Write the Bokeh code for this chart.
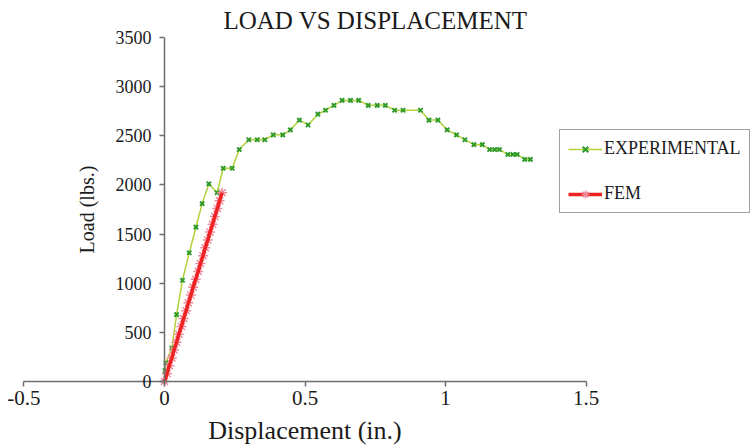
from bokeh.plotting import figure
from bokeh.models import (Range1d, FixedTicker, Legend, LegendItem, Label)
from bokeh.embed import file_html
from bokeh.resources import INLINE

# ---- data ----
exp_disp = [0, 0.002, 0.005, 0.026, 0.043, 0.064, 0.088, 0.112, 0.134, 0.158,
            0.187, 0.209, 0.241, 0.266, 0.300, 0.330, 0.357, 0.387, 0.421, 0.448,
            0.480, 0.511, 0.546, 0.573, 0.603, 0.632, 0.662, 0.691, 0.725, 0.757,
            0.786, 0.819, 0.849, 0.911, 0.941, 0.973, 1.006, 1.039, 1.069, 1.101,
            1.131, 1.157, 1.175, 1.192, 1.222, 1.240, 1.255, 1.282, 1.302]
exp_load = [0, 110, 190, 340, 680, 1030, 1310, 1570, 1810, 2010,
            1920, 2170, 2170, 2360, 2460, 2460, 2460, 2510, 2510, 2560,
            2660, 2610, 2720, 2760, 2810, 2860, 2860, 2860, 2810, 2810,
            2810, 2760, 2760, 2760, 2660, 2660, 2560, 2510, 2460, 2410,
            2410, 2360, 2360, 2360, 2310, 2310, 2310, 2260, 2260]

fem_disp = [0, 0.009, 0.017, 0.026, 0.034, 0.043, 0.051, 0.060, 0.068, 0.077,
            0.085, 0.094, 0.102, 0.111, 0.120, 0.128, 0.137, 0.145, 0.154, 0.162,
            0.171, 0.179, 0.188, 0.196, 0.205]
fem_load = [0, 80, 160, 240, 320, 400, 480, 560, 640, 720,
            800, 880, 960, 1040, 1120, 1200, 1280, 1360, 1440, 1520,
            1600, 1680, 1760, 1840, 1920]

x_ticks = [-0.5, 0, 0.5, 1, 1.5]
x_tick_labels = ["-0.5", "0", "0.5", "1", "1.5"]
y_ticks = [0, 500, 1000, 1500, 2000, 2500, 3000, 3500]

title_text = "LOAD VS DISPLACEMENT"
x_title = "Displacement (in.)"
y_title = "Load (lbs.)"

FONT = "Liberation Serif"
W, H = 754, 447

p = figure(width=W, height=H, output_backend="svg", toolbar_location=None,
           x_range=Range1d(-0.5836, 2.0996), y_range=Range1d(-671.5, 3876.4),
           min_border_left=0, min_border_right=0, min_border_top=0, min_border_bottom=0)
p.outline_line_color = None
p.grid.visible = False
p.background_fill_color = "white"
p.border_fill_color = "white"

for ax in (p.xaxis[0], p.yaxis[0]):
    ax.axis_line_color = "#6e6e6e"
    ax.axis_line_width = 1.5
    ax.major_tick_line_color = "#6e6e6e"
    ax.major_tick_line_width = 1.5
    ax.major_tick_out = 5
    ax.major_tick_in = 0
    ax.minor_tick_line_color = None
    ax.major_label_text_font = FONT
    ax.major_label_text_color = "#1a1a1a"
    ax.axis_label_text_font = FONT
    ax.axis_label_text_font_style = "normal"
    ax.axis_label_text_color = "#1a1a1a"

xa = p.xaxis[0]
xa.fixed_location = 0
xa.bounds = (-0.5, 1.5)
xa.ticker = FixedTicker(ticks=x_ticks)
xa.major_label_overrides = {t: s for t, s in zip(x_ticks, x_tick_labels)}
xa.major_label_text_font_size = "21px"
xa.major_label_standoff = 4
xa.axis_label = x_title
xa.axis_label_text_font_size = "26px"
xa.axis_label_standoff = 8

ya = p.yaxis[0]
ya.fixed_location = 0
ya.bounds = (0, 3500)
ya.ticker = FixedTicker(ticks=y_ticks)
ya.major_label_text_font_size = "18px"
ya.major_label_standoff = 8
ya.axis_label = y_title
ya.axis_label_text_font_size = "20px"
ya.axis_label_standoff = 15

# experimental
l1 = p.line(exp_disp, exp_load, line_color="#b2d23a", line_width=1.5)
s1 = p.scatter(exp_disp, exp_load, marker="x", size=6, line_color="#2f9a2a", line_width=2)

# FEM
s2 = p.scatter(fem_disp, fem_load, marker="asterisk", size=10, line_color="#f08a9a", line_width=1.5)
l2 = p.line(fem_disp, fem_load, line_color="#ee2222", line_width=3.5)

legend = Legend(items=[LegendItem(label="EXPERIMENTAL", renderers=[l1, s1]),
                       LegendItem(label="FEM", renderers=[l2, s2])],
                location=(559, 234))
legend.label_text_font = FONT
legend.label_text_font_size = "18px"
legend.label_text_color = "#1a1a1a"
legend.glyph_width = 34
legend.glyph_height = 20
legend.label_height = 20
legend.label_standoff = 2
legend.spacing = 24
legend.padding = 8
legend.margin = 0
legend.border_line_color = "#444444"
legend.border_line_width = 1.5
legend.background_fill_color = "white"
legend.background_fill_alpha = 1
p.add_layout(legend, "center")

title = Label(x=375, y=H - 20, x_units="screen", y_units="screen", text=title_text,
              text_font=FONT, text_font_size="25px", text_align="center",
              text_baseline="middle", text_color="#1a1a1a")
p.add_layout(title)

open("out.html", "w").write(file_html(p, INLINE))
